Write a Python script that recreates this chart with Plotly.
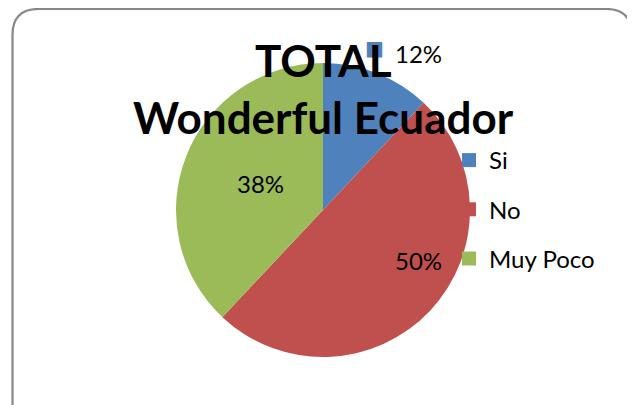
import plotly.graph_objects as go

# page is rendered with an 8px body margin; size the figure to fit the window
OFF = 8
W, H = 635 - OFF, 405 - OFF

categories = ["Si", "No", "Muy Poco"]
values = [12, 50, 38]
colors = ["#4F81BD", "#C0504D", "#9BBB59"]
title_lines = ["TOTAL", "Wonderful Ecuador"]

FONT = "Lato, Liberation Sans, sans-serif"

def px(x):
    return (x - OFF) / W

def py(y):
    return 1 - (y - OFF) / H

fig = go.Figure()

fig.add_trace(go.Pie(
    labels=categories,
    values=values,
    marker=dict(colors=colors, line=dict(width=0)),
    sort=False,
    direction="clockwise",
    rotation=0,
    textinfo="none",
    showlegend=False,
    domain=dict(x=[px(176), px(470)], y=[py(357), py(63)]),
    hoverinfo="label+percent",
))

# legend via dummy traces for spacing control
for c, col in zip(categories, colors):
    fig.add_trace(go.Scatter(
        x=[None], y=[None], mode="markers", name=c, legendgroup=c,
        marker=dict(symbol="square", size=14, color=col),
    ))

# percent labels
total = sum(values)
pct = [f"{round(v / total * 100)}%" for v in values]
label_pos = [(418, 53), (418, 260), (260, 183)]
for p, (x, y) in zip(pct, label_pos):
    fig.add_annotation(x=px(x), y=py(y), xref="paper", yref="paper",
                       text=p, showarrow=False, yanchor="middle",
                       font=dict(family=FONT, size=24, color="#000"))
# legend key next to the 12% label
fig.add_annotation(x=px(374), y=py(48), xref="paper", yref="paper",
                   text="■", showarrow=False, yanchor="middle",
                   font=dict(family="DejaVu Sans", size=20, color=colors[0]))

# title (two lines, overlapping the pie as in the original)
for t, y in zip(title_lines, [60, 117]):
    fig.add_annotation(x=px(323), y=py(y), xref="paper", yref="paper",
                       text=f"<b>{t}</b>", showarrow=False, yanchor="middle",
                       font=dict(family=FONT, size=44, color="#000"))

# rounded border path
x0, x1, y0, y1, r = 12.5, 632, 9, 430, 26
path = (f"M {px(x0)},{py(y1)} L {px(x0)},{py(y0 + r)} "
        f"Q {px(x0)},{py(y0)} {px(x0 + r)},{py(y0)} "
        f"L {px(x1 - r)},{py(y0)} Q {px(x1)},{py(y0)} {px(x1)},{py(y0 + r)} "
        f"L {px(x1)},{py(y1)}")

fig.update_layout(
    width=W, height=H,
    margin=dict(l=0, r=0, t=0, b=0),
    paper_bgcolor="white", plot_bgcolor="white",
    xaxis=dict(visible=False), yaxis=dict(visible=False),
    legend=dict(x=px(449), y=py(138), xanchor="left", yanchor="top",
                font=dict(family=FONT, size=24, color="#000"),
                traceorder="grouped", tracegroupgap=15, bgcolor="rgba(0,0,0,0)"),
    shapes=[dict(type="path", path=path, xref="paper", yref="paper",
                 line=dict(color="#878787", width=2.2))],
)

fig.write_html("out.html")
